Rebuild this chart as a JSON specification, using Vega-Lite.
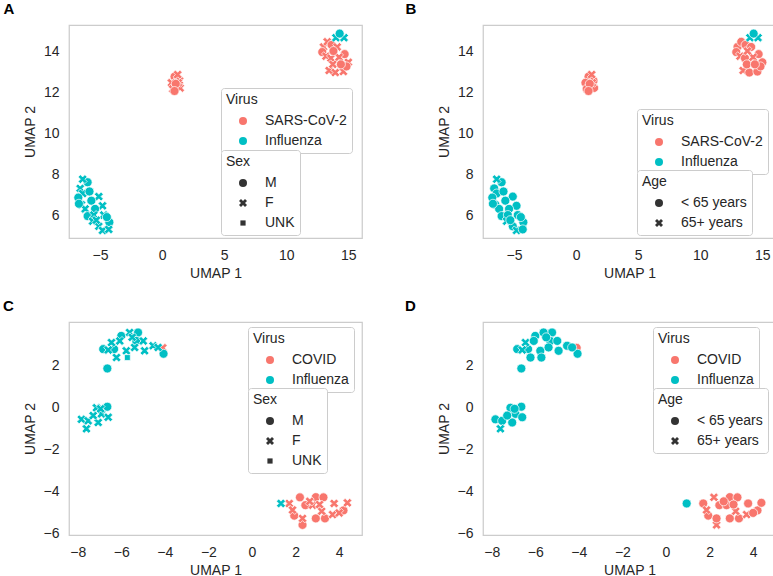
{
 "$schema": "https://vega.github.io/schema/vega-lite/v6.json",
 "padding": {"left": 2, "top": 1, "right": 2, "bottom": 0},
 "config": {
  "font": "Liberation Sans",
  "view": {"stroke": "#cccccc", "strokeWidth": 1.25},
  "axis": {"grid": false, "domain": false, "ticks": false, "labelFontSize": 14, "titleFontSize": 14, "titleFontWeight": "normal", "labelColor": "#262626", "titleColor": "#262626"},
  "axisX": {"labelPadding": 10, "titlePadding": 4},
  "axisY": {"labelPadding": 10, "titlePadding": 6},
  "legend": {"orient": "none", "titleFontSize": 14, "titleFontWeight": "normal", "titleColor": "#262626", "labelFontSize": 14, "labelColor": "#262626", "symbolSize": 64, "labelOffset": 15, "rowPadding": 6, "titlePadding": 7, "padding": 5, "strokeColor": "#cccccc", "fillColor": "white", "cornerRadius": 3, "symbolOffset": 10, "symbolStrokeWidth": 0},
  "title": {"fontSize": 15, "fontWeight": "bold", "anchor": "start", "frame": "bounds", "dx": -20, "offset": 8, "color": "#000000"}
 },
 "resolve": {"scale": {"color": "independent", "shape": "independent"}, "legend": {"color": "independent", "shape": "independent"}},
 "datasets": {
  "ab": [
   {"x": 1.0, "y": 12.75, "virus": "SARS-CoV-2", "sex": "M", "age": "< 65 years"},
   {"x": 1.4, "y": 12.55, "virus": "SARS-CoV-2", "sex": "F", "age": "< 65 years"},
   {"x": 0.75, "y": 12.45, "virus": "SARS-CoV-2", "sex": "F", "age": "< 65 years"},
   {"x": 1.25, "y": 12.85, "virus": "SARS-CoV-2", "sex": "F", "age": "65+ years"},
   {"x": 0.85, "y": 12.15, "virus": "SARS-CoV-2", "sex": "F", "age": "< 65 years"},
   {"x": 1.45, "y": 12.2, "virus": "SARS-CoV-2", "sex": "F", "age": "< 65 years"},
   {"x": 1.3, "y": 12.45, "virus": "SARS-CoV-2", "sex": "F", "age": "65+ years"},
   {"x": 1.1, "y": 12.4, "virus": "SARS-CoV-2", "sex": "M", "age": "< 65 years"},
   {"x": 1.0, "y": 12.05, "virus": "SARS-CoV-2", "sex": "M", "age": "< 65 years"},
   {"x": 13.0, "y": 14.2, "virus": "SARS-CoV-2", "sex": "F", "age": "< 65 years"},
   {"x": 13.3, "y": 14.45, "virus": "SARS-CoV-2", "sex": "F", "age": "< 65 years"},
   {"x": 12.9, "y": 13.95, "virus": "SARS-CoV-2", "sex": "M", "age": "< 65 years"},
   {"x": 13.2, "y": 13.75, "virus": "SARS-CoV-2", "sex": "F", "age": "65+ years"},
   {"x": 13.6, "y": 13.65, "virus": "SARS-CoV-2", "sex": "F", "age": "< 65 years"},
   {"x": 13.45, "y": 13.05, "virus": "SARS-CoV-2", "sex": "F", "age": "65+ years"},
   {"x": 13.95, "y": 12.95, "virus": "SARS-CoV-2", "sex": "F", "age": "< 65 years"},
   {"x": 14.6, "y": 13.0, "virus": "SARS-CoV-2", "sex": "F", "age": "< 65 years"},
   {"x": 15.0, "y": 13.45, "virus": "SARS-CoV-2", "sex": "F", "age": "< 65 years"},
   {"x": 14.7, "y": 13.85, "virus": "SARS-CoV-2", "sex": "M", "age": "< 65 years"},
   {"x": 14.25, "y": 13.7, "virus": "SARS-CoV-2", "sex": "F", "age": "65+ years"},
   {"x": 13.65, "y": 14.3, "virus": "SARS-CoV-2", "sex": "M", "age": "< 65 years"},
   {"x": 14.1, "y": 14.2, "virus": "SARS-CoV-2", "sex": "F", "age": "< 65 years"},
   {"x": 13.75, "y": 13.35, "virus": "SARS-CoV-2", "sex": "F", "age": "< 65 years"},
   {"x": 14.85, "y": 13.25, "virus": "SARS-CoV-2", "sex": "M", "age": "< 65 years"},
   {"x": 13.8, "y": 14.0, "virus": "SARS-CoV-2", "sex": "M", "age": "65+ years"},
   {"x": 14.4, "y": 13.35, "virus": "SARS-CoV-2", "sex": "M", "age": "< 65 years"},
   {"x": 14.0, "y": 14.65, "virus": "Influenza", "sex": "F", "age": "65+ years"},
   {"x": 14.65, "y": 14.65, "virus": "Influenza", "sex": "F", "age": "65+ years"},
   {"x": 14.3, "y": 14.85, "virus": "Influenza", "sex": "M", "age": "< 65 years"},
   {"x": -6.0, "y": 7.6, "virus": "Influenza", "sex": "M", "age": "< 65 years"},
   {"x": -6.4, "y": 7.75, "virus": "Influenza", "sex": "F", "age": "65+ years"},
   {"x": -6.6, "y": 7.3, "virus": "Influenza", "sex": "F", "age": "< 65 years"},
   {"x": -6.4, "y": 7.05, "virus": "Influenza", "sex": "F", "age": "< 65 years"},
   {"x": -5.85, "y": 7.15, "virus": "Influenza", "sex": "M", "age": "< 65 years"},
   {"x": -6.75, "y": 6.85, "virus": "Influenza", "sex": "M", "age": "< 65 years"},
   {"x": -5.1, "y": 6.9, "virus": "Influenza", "sex": "F", "age": "< 65 years"},
   {"x": -5.7, "y": 6.7, "virus": "Influenza", "sex": "M", "age": "< 65 years"},
   {"x": -6.5, "y": 6.5, "virus": "Influenza", "sex": "F", "age": "< 65 years"},
   {"x": -4.8, "y": 6.45, "virus": "Influenza", "sex": "F", "age": "< 65 years"},
   {"x": -5.4, "y": 6.3, "virus": "Influenza", "sex": "M", "age": "< 65 years"},
   {"x": -6.2, "y": 6.3, "virus": "Influenza", "sex": "F", "age": "< 65 years"},
   {"x": -6.0, "y": 5.95, "virus": "Influenza", "sex": "M", "age": "< 65 years"},
   {"x": -5.5, "y": 6.0, "virus": "Influenza", "sex": "F", "age": "< 65 years"},
   {"x": -4.7, "y": 6.0, "virus": "Influenza", "sex": "F", "age": "< 65 years"},
   {"x": -5.6, "y": 5.7, "virus": "Influenza", "sex": "F", "age": "65+ years"},
   {"x": -5.1, "y": 5.45, "virus": "Influenza", "sex": "F", "age": "< 65 years"},
   {"x": -4.25, "y": 5.65, "virus": "Influenza", "sex": "M", "age": "< 65 years"},
   {"x": -4.8, "y": 5.25, "virus": "Influenza", "sex": "F", "age": "65+ years"},
   {"x": -4.3, "y": 5.3, "virus": "Influenza", "sex": "F", "age": "< 65 years"},
   {"x": -6.7, "y": 6.55, "virus": "Influenza", "sex": "M", "age": "< 65 years"},
   {"x": -4.45, "y": 5.9, "virus": "Influenza", "sex": "M", "age": "< 65 years"},
   {"x": -5.3, "y": 5.75, "virus": "Influenza", "sex": "F", "age": "< 65 years"}
  ],
  "c": [
   {"x": -4.1, "y": 2.85, "virus": "COVID", "sex": "F", "age": "< 65 years"},
   {"x": 2.2, "y": -4.26, "virus": "COVID", "sex": "M", "age": "65+ years"},
   {"x": 2.93, "y": -4.25, "virus": "COVID", "sex": "M", "age": "< 65 years"},
   {"x": 3.28, "y": -4.26, "virus": "COVID", "sex": "M", "age": "< 65 years"},
   {"x": 2.45, "y": -4.63, "virus": "COVID", "sex": "M", "age": "< 65 years"},
   {"x": 4.2, "y": -4.88, "virus": "COVID", "sex": "M", "age": "< 65 years"},
   {"x": 1.94, "y": -5.13, "virus": "COVID", "sex": "M", "age": "< 65 years"},
   {"x": 2.93, "y": -5.26, "virus": "COVID", "sex": "M", "age": "< 65 years"},
   {"x": 3.35, "y": -5.26, "virus": "COVID", "sex": "M", "age": "< 65 years"},
   {"x": 2.32, "y": -5.57, "virus": "COVID", "sex": "M", "age": "65+ years"},
   {"x": 1.71, "y": -4.55, "virus": "COVID", "sex": "F", "age": "< 65 years"},
   {"x": 4.38, "y": -4.52, "virus": "COVID", "sex": "F", "age": "< 65 years"},
   {"x": 3.77, "y": -4.55, "virus": "COVID", "sex": "F", "age": "< 65 years"},
   {"x": 2.78, "y": -4.63, "virus": "COVID", "sex": "F", "age": "< 65 years"},
   {"x": 3.7, "y": -5.08, "virus": "COVID", "sex": "F", "age": "65+ years"},
   {"x": 3.2, "y": -4.92, "virus": "COVID", "sex": "F", "age": "65+ years"},
   {"x": 1.86, "y": -4.86, "virus": "COVID", "sex": "F", "age": "65+ years"},
   {"x": 2.32, "y": -5.26, "virus": "COVID", "sex": "F", "age": "< 65 years"},
   {"x": 3.1, "y": -4.6, "virus": "COVID", "sex": "F", "age": "< 65 years"},
   {"x": 2.65, "y": -4.45, "virus": "COVID", "sex": "F", "age": "< 65 years"},
   {"x": 4.0, "y": -5.0, "virus": "COVID", "sex": "F", "age": "< 65 years"},
   {"x": 1.33, "y": -4.55, "virus": "Influenza", "sex": "F", "age": "< 65 years"},
   {"x": -6.64, "y": 1.87, "virus": "Influenza", "sex": "M", "age": "< 65 years"},
   {"x": -6.83, "y": 2.79, "virus": "Influenza", "sex": "M", "age": "< 65 years"},
   {"x": -6.33, "y": 2.79, "virus": "Influenza", "sex": "M", "age": "< 65 years"},
   {"x": -6.0, "y": 3.42, "virus": "Influenza", "sex": "M", "age": "< 65 years"},
   {"x": -5.23, "y": 3.58, "virus": "Influenza", "sex": "M", "age": "< 65 years"},
   {"x": -5.31, "y": 3.18, "virus": "Influenza", "sex": "M", "age": "< 65 years"},
   {"x": -4.06, "y": 2.57, "virus": "Influenza", "sex": "M", "age": "< 65 years"},
   {"x": -6.45, "y": 3.1, "virus": "Influenza", "sex": "F", "age": "65+ years"},
   {"x": -6.22, "y": 2.39, "virus": "Influenza", "sex": "F", "age": "< 65 years"},
   {"x": -5.62, "y": 3.58, "virus": "Influenza", "sex": "F", "age": "< 65 years"},
   {"x": -5.77, "y": 2.71, "virus": "Influenza", "sex": "F", "age": "< 65 years"},
   {"x": -5.39, "y": 2.87, "virus": "Influenza", "sex": "F", "age": "< 65 years"},
   {"x": -4.93, "y": 2.71, "virus": "Influenza", "sex": "F", "age": "< 65 years"},
   {"x": -4.54, "y": 2.95, "virus": "Influenza", "sex": "F", "age": "< 65 years"},
   {"x": -4.99, "y": 3.18, "virus": "Influenza", "sex": "F", "age": "< 65 years"},
   {"x": -4.31, "y": 2.87, "virus": "Influenza", "sex": "F", "age": "< 65 years"},
   {"x": -6.07, "y": 3.18, "virus": "Influenza", "sex": "F", "age": "< 65 years"},
   {"x": -5.72, "y": 2.39, "virus": "Influenza", "sex": "UNK", "age": "< 65 years"},
   {"x": -6.6, "y": 2.75, "virus": "Influenza", "sex": "F", "age": "65+ years"},
   {"x": -5.5, "y": 3.35, "virus": "Influenza", "sex": "F", "age": "< 65 years"},
   {"x": -6.64, "y": 0.05, "virus": "Influenza", "sex": "M", "age": "< 65 years"},
   {"x": -7.14, "y": 0.0, "virus": "Influenza", "sex": "F", "age": "< 65 years"},
   {"x": -6.91, "y": -0.29, "virus": "Influenza", "sex": "F", "age": "< 65 years"},
   {"x": -6.6, "y": -0.45, "virus": "Influenza", "sex": "F", "age": "< 65 years"},
   {"x": -7.83, "y": -0.55, "virus": "Influenza", "sex": "F", "age": "< 65 years"},
   {"x": -7.52, "y": -0.62, "virus": "Influenza", "sex": "F", "age": "< 65 years"},
   {"x": -7.6, "y": -1.0, "virus": "Influenza", "sex": "F", "age": "65+ years"},
   {"x": -7.06, "y": -0.7, "virus": "Influenza", "sex": "F", "age": "< 65 years"},
   {"x": -7.29, "y": -0.37, "virus": "Influenza", "sex": "F", "age": "< 65 years"},
   {"x": -6.95, "y": -0.05, "virus": "Influenza", "sex": "F", "age": "< 65 years"}
  ],
  "d": [
   {"x": -4.1, "y": 2.85, "virus": "COVID", "age": "< 65 years"},
   {"x": 2.2, "y": -4.26, "virus": "COVID", "age": "65+ years"},
   {"x": 2.93, "y": -4.25, "virus": "COVID", "age": "< 65 years"},
   {"x": 3.28, "y": -4.26, "virus": "COVID", "age": "< 65 years"},
   {"x": 2.45, "y": -4.63, "virus": "COVID", "age": "< 65 years"},
   {"x": 4.2, "y": -4.88, "virus": "COVID", "age": "< 65 years"},
   {"x": 1.94, "y": -5.13, "virus": "COVID", "age": "< 65 years"},
   {"x": 2.93, "y": -5.26, "virus": "COVID", "age": "< 65 years"},
   {"x": 3.35, "y": -5.26, "virus": "COVID", "age": "< 65 years"},
   {"x": 2.32, "y": -5.57, "virus": "COVID", "age": "65+ years"},
   {"x": 1.71, "y": -4.55, "virus": "COVID", "age": "< 65 years"},
   {"x": 4.38, "y": -4.52, "virus": "COVID", "age": "< 65 years"},
   {"x": 3.77, "y": -4.55, "virus": "COVID", "age": "< 65 years"},
   {"x": 2.78, "y": -4.63, "virus": "COVID", "age": "< 65 years"},
   {"x": 3.7, "y": -5.08, "virus": "COVID", "age": "65+ years"},
   {"x": 3.2, "y": -4.92, "virus": "COVID", "age": "65+ years"},
   {"x": 1.86, "y": -4.86, "virus": "COVID", "age": "65+ years"},
   {"x": 2.32, "y": -5.26, "virus": "COVID", "age": "< 65 years"},
   {"x": 3.1, "y": -4.6, "virus": "COVID", "age": "< 65 years"},
   {"x": 2.65, "y": -4.45, "virus": "COVID", "age": "< 65 years"},
   {"x": 4.0, "y": -5.0, "virus": "COVID", "age": "< 65 years"},
   {"x": 0.95, "y": -4.55, "virus": "Influenza", "age": "< 65 years"},
   {"x": -6.64, "y": 1.87, "virus": "Influenza", "age": "< 65 years"},
   {"x": -6.83, "y": 2.79, "virus": "Influenza", "age": "< 65 years"},
   {"x": -6.33, "y": 2.79, "virus": "Influenza", "age": "< 65 years"},
   {"x": -6.0, "y": 3.42, "virus": "Influenza", "age": "< 65 years"},
   {"x": -5.23, "y": 3.58, "virus": "Influenza", "age": "< 65 years"},
   {"x": -5.31, "y": 3.18, "virus": "Influenza", "age": "< 65 years"},
   {"x": -4.06, "y": 2.57, "virus": "Influenza", "age": "< 65 years"},
   {"x": -6.45, "y": 3.1, "virus": "Influenza", "age": "65+ years"},
   {"x": -6.22, "y": 2.39, "virus": "Influenza", "age": "< 65 years"},
   {"x": -5.62, "y": 3.58, "virus": "Influenza", "age": "< 65 years"},
   {"x": -5.77, "y": 2.71, "virus": "Influenza", "age": "< 65 years"},
   {"x": -5.39, "y": 2.87, "virus": "Influenza", "age": "< 65 years"},
   {"x": -4.93, "y": 2.71, "virus": "Influenza", "age": "< 65 years"},
   {"x": -4.54, "y": 2.95, "virus": "Influenza", "age": "< 65 years"},
   {"x": -4.99, "y": 3.18, "virus": "Influenza", "age": "< 65 years"},
   {"x": -4.31, "y": 2.87, "virus": "Influenza", "age": "< 65 years"},
   {"x": -6.07, "y": 3.18, "virus": "Influenza", "age": "< 65 years"},
   {"x": -5.72, "y": 2.39, "virus": "Influenza", "age": "< 65 years"},
   {"x": -6.6, "y": 2.75, "virus": "Influenza", "age": "65+ years"},
   {"x": -5.5, "y": 3.35, "virus": "Influenza", "age": "< 65 years"},
   {"x": -6.64, "y": 0.05, "virus": "Influenza", "age": "< 65 years"},
   {"x": -7.14, "y": 0.0, "virus": "Influenza", "age": "< 65 years"},
   {"x": -6.91, "y": -0.29, "virus": "Influenza", "age": "< 65 years"},
   {"x": -6.6, "y": -0.45, "virus": "Influenza", "age": "< 65 years"},
   {"x": -7.83, "y": -0.55, "virus": "Influenza", "age": "< 65 years"},
   {"x": -7.52, "y": -0.62, "virus": "Influenza", "age": "< 65 years"},
   {"x": -7.6, "y": -1.0, "virus": "Influenza", "age": "65+ years"},
   {"x": -7.06, "y": -0.7, "virus": "Influenza", "age": "< 65 years"},
   {"x": -7.29, "y": -0.37, "virus": "Influenza", "age": "< 65 years"},
   {"x": -6.95, "y": -0.05, "virus": "Influenza", "age": "< 65 years"}
  ]
 },
 "vconcat": [
  {
   "spacing": 41,
   "resolve": {"scale": {"color": "independent", "shape": "independent"}, "legend": {"color": "independent", "shape": "independent"}},
   "hconcat": [
    {
     "title": {"text": "A"},
     "width": 293, "height": 213,
     "data": {"name": "ab"},
     "mark": {"type": "point", "filled": true, "size": 81, "opacity": 1, "stroke": "white", "strokeWidth": 0.7},
     "encoding": {
      "x": {"field": "x", "type": "quantitative", "scale": {"domain": [-7.5, 16.1], "nice": false, "zero": false}, "axis": {"values": [-5, 0, 5, 10, 15], "title": "UMAP 1"}},
      "y": {"field": "y", "type": "quantitative", "scale": {"domain": [4.88, 15.27], "nice": false, "zero": false}, "axis": {"values": [6, 8, 10, 12, 14], "title": "UMAP 2"}},
      "color": {"field": "virus", "type": "nominal", "scale": {"domain": ["SARS-CoV-2", "Influenza"], "range": ["#F8766D", "#00BFC4"]}, "legend": {"title": "Virus", "legendX": 152, "legendY": 63, "symbolType": "circle"}},
      "shape": {"field": "sex", "type": "nominal", "scale": {"domain": ["M", "F", "UNK"], "range": ["circle", "M-0.5,-1L0,-0.5L0.5,-1L1,-0.5L0.5,0L1,0.5L0.5,1L0,0.5L-0.5,1L-1,0.5L-0.5,0L-1,-0.5Z", "M-0.65,-0.65H0.65V0.65H-0.65Z"]}, "legend": {"title": "Sex", "legendX": 152, "legendY": 125, "symbolFillColor": "#333333"}}
     }
    },
    {
     "title": {"text": "B", "dx": -32},
     "width": 293, "height": 213,
     "data": {"name": "ab"},
     "mark": {"type": "point", "filled": true, "size": 81, "opacity": 1, "stroke": "white", "strokeWidth": 0.7},
     "encoding": {
      "x": {"field": "x", "type": "quantitative", "scale": {"domain": [-7.5, 16.1], "nice": false, "zero": false}, "axis": {"values": [-5, 0, 5, 10, 15], "title": "UMAP 1"}},
      "y": {"field": "y", "type": "quantitative", "scale": {"domain": [4.88, 15.27], "nice": false, "zero": false}, "axis": {"values": [6, 8, 10, 12, 14], "title": "UMAP 2"}},
      "color": {"field": "virus", "type": "nominal", "scale": {"domain": ["SARS-CoV-2", "Influenza"], "range": ["#F8766D", "#00BFC4"]}, "legend": {"title": "Virus", "legendX": 154, "legendY": 84, "symbolType": "circle"}},
      "shape": {"field": "age", "type": "nominal", "scale": {"domain": ["< 65 years", "65+ years"], "range": ["circle", "M-0.5,-1L0,-0.5L0.5,-1L1,-0.5L0.5,0L1,0.5L0.5,1L0,0.5L-0.5,1L-1,0.5L-0.5,0L-1,-0.5Z"]}, "legend": {"title": "Age", "legendX": 154, "legendY": 145, "symbolFillColor": "#333333"}}
     }
    }
   ]
  },
  {
   "spacing": 41,
   "resolve": {"scale": {"color": "independent", "shape": "independent"}, "legend": {"color": "independent", "shape": "independent"}},
   "hconcat": [
    {
     "title": {"text": "C"},
     "width": 293, "height": 213,
     "data": {"name": "c"},
     "mark": {"type": "point", "filled": true, "size": 81, "opacity": 1, "stroke": "white", "strokeWidth": 0.7},
     "encoding": {
      "x": {"field": "x", "type": "quantitative", "scale": {"domain": [-8.4, 5.05], "nice": false, "zero": false}, "axis": {"values": [-8, -6, -4, -2, 0, 2, 4], "title": "UMAP 1"}},
      "y": {"field": "y", "type": "quantitative", "scale": {"domain": [-6.05, 4.08], "nice": false, "zero": false}, "axis": {"values": [-6, -4, -2, 0, 2], "title": "UMAP 2"}},
      "color": {"field": "virus", "type": "nominal", "scale": {"domain": ["COVID", "Influenza"], "range": ["#F8766D", "#00BFC4"]}, "legend": {"title": "Virus", "legendX": 179, "legendY": 5, "symbolType": "circle"}},
      "shape": {"field": "sex", "type": "nominal", "scale": {"domain": ["M", "F", "UNK"], "range": ["circle", "M-0.5,-1L0,-0.5L0.5,-1L1,-0.5L0.5,0L1,0.5L0.5,1L0,0.5L-0.5,1L-1,0.5L-0.5,0L-1,-0.5Z", "M-0.65,-0.65H0.65V0.65H-0.65Z"]}, "legend": {"title": "Sex", "legendX": 179, "legendY": 66, "symbolFillColor": "#333333"}}
     }
    },
    {
     "title": {"text": "D", "dx": -32},
     "width": 293, "height": 213,
     "data": {"name": "d"},
     "mark": {"type": "point", "filled": true, "size": 81, "opacity": 1, "stroke": "white", "strokeWidth": 0.7},
     "encoding": {
      "x": {"field": "x", "type": "quantitative", "scale": {"domain": [-8.4, 5.05], "nice": false, "zero": false}, "axis": {"values": [-8, -6, -4, -2, 0, 2, 4], "title": "UMAP 1"}},
      "y": {"field": "y", "type": "quantitative", "scale": {"domain": [-6.05, 4.08], "nice": false, "zero": false}, "axis": {"values": [-6, -4, -2, 0, 2], "title": "UMAP 2"}},
      "color": {"field": "virus", "type": "nominal", "scale": {"domain": ["COVID", "Influenza"], "range": ["#F8766D", "#00BFC4"]}, "legend": {"title": "Virus", "legendX": 170, "legendY": 5, "symbolType": "circle"}},
      "shape": {"field": "age", "type": "nominal", "scale": {"domain": ["< 65 years", "65+ years"], "range": ["circle", "M-0.5,-1L0,-0.5L0.5,-1L1,-0.5L0.5,0L1,0.5L0.5,1L0,0.5L-0.5,1L-1,0.5L-0.5,0L-1,-0.5Z"]}, "legend": {"title": "Age", "legendX": 170, "legendY": 66, "symbolFillColor": "#333333"}}
     }
    }
   ]
  }
 ],
 "spacing": 17
}
